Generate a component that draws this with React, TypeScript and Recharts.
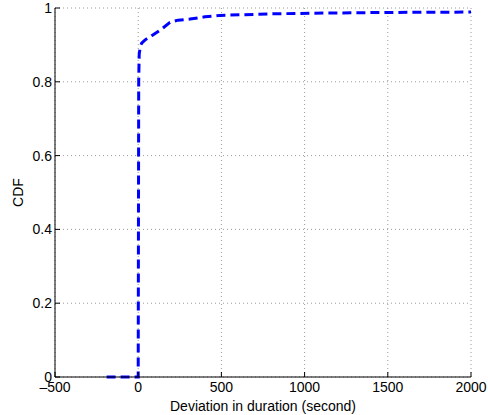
import React from 'react';
import { LineChart, Line, XAxis, YAxis, CartesianGrid, Label } from 'recharts';

// Empirical CDF of the deviation in duration (seconds)
const deviation = [-190, 0, 3, 6, 12, 21, 40, 81, 141, 191, 239, 311, 401, 492, 793, 1051, 1500, 2000];
const cdf = [0, 0, 0.8, 0.875, 0.893, 0.905, 0.913, 0.925, 0.943, 0.961, 0.967, 0.970, 0.976, 0.980, 0.984, 0.986, 0.988, 0.989];

const xTicks = [-500, 0, 500, 1000, 1500, 2000];
const yTicks = [0, 0.2, 0.4, 0.6, 0.8, 1];

const data = deviation.map((d, i) => ({ d, p: cdf[i] }));

const font = 'Liberation Sans, Arial, Helvetica, sans-serif';
const tickStyle = { fontSize: 14, fill: '#000', fontFamily: font };
const fmt = (v: number) => (v < 0 ? '\u2013' + String(-v) : String(v));

export default function App() {
  return (
    <div style={{ position: 'absolute', left: 0, top: 0, background: '#fff' }}>
      <LineChart width={488} height={415} data={data} margin={{ top: 8, right: 17, left: 0, bottom: 0 }}>
        <CartesianGrid
          xAxisId="bottom"
          yAxisId="left"
          stroke="#9a9a9a"
          strokeDasharray="1 3"
        />
        <XAxis
          xAxisId="bottom"
          dataKey="d"
          type="number"
          domain={[-500, 2000]}
          ticks={xTicks}
          height={38}
          stroke="#000"
          tickSize={-5}
          tickMargin={10}
          tick={tickStyle}
          tickFormatter={fmt}
          allowDataOverflow
        >
          <Label value="Deviation in duration (second)" position="insideBottom" offset={4} style={{ fontSize: 14, fill: '#000', fontFamily: font }} />
        </XAxis>
        <XAxis
          xAxisId="top"
          orientation="top"
          dataKey="d"
          type="number"
          domain={[-500, 2000]}
          ticks={xTicks}
          height={0}
          stroke="#000"
          tickSize={-5}
          tickFormatter={() => ''}
        />
        <YAxis
          yAxisId="left"
          type="number"
          domain={[0, 1]}
          ticks={yTicks}
          width={55}
          stroke="#000"
          tickSize={-5}
          tickMargin={8}
          tick={tickStyle}
          tickFormatter={(v: number) => String(v)}
        >
          <Label value="CDF" angle={-90} position="insideLeft" offset={18} style={{ fontSize: 14, fill: '#000', fontFamily: font, textAnchor: 'middle' }} />
        </YAxis>
        <YAxis
          yAxisId="right"
          orientation="right"
          type="number"
          domain={[0, 1]}
          ticks={yTicks}
          width={0}
          stroke="#000"
          tickSize={-5}
          tickFormatter={() => ''}
        />
        <Line
          xAxisId="bottom"
          yAxisId="left"
          dataKey="p"
          type="linear"
          stroke="#0000ff"
          strokeWidth={3}
          strokeDasharray="9 5"
          dot={false}
          isAnimationActive={false}
        />
      </LineChart>
    </div>
  );
}
